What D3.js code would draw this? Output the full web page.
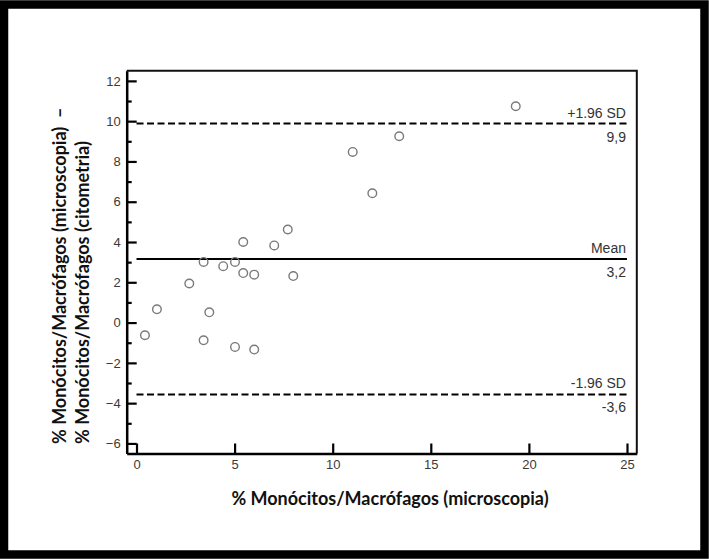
<!DOCTYPE html>
<html>
<head>
<meta charset="utf-8">
<script src="https://cdn.jsdelivr.net/npm/d3@7"></script>
<style>
  html, body { margin: 0; padding: 0; background: #fff; }
  svg { display: block; }
  .tick text { font-family: 'Liberation Sans', Arial, sans-serif; font-size: 13px; fill: #3a3a3a; }
</style>
</head>
<body>
<script>
// Bland-Altman data
const microscopia = [0.43, 1.04, 2.69, 3.42, 3.42, 3.71, 4.42, 5.02, 5.02, 5.44, 5.44, 6.0, 6.0, 7.02, 7.71, 7.99, 11.02, 12.02, 13.39, 19.33]
const diferenca = [-0.63, 0.66, 1.94, 3.01, -0.88, 0.51, 2.8, 3.01, -1.21, 2.46, 4.0, 2.38, -1.34, 3.83, 4.62, 2.31, 8.47, 6.42, 9.25, 10.74]

// Reference lines
const refValues = [9.88, 3.16, -3.57]
const refNames = ['+1.96 SD', 'Mean', '-1.96 SD']
const refLabels = ['9,9', '3,2', '-3,6']
const refDashed = [true, false, true]

// Ticks
const xTicks = [0, 5, 10, 15, 20, 25]
const yTicks = [-6, -4, -2, 0, 2, 4, 6, 8, 10, 12]
const yMinor = [-5, -3, -1, 1, 3, 5, 7, 9, 11]

const width = 709
const height = 559

const svg = d3.select('body').append('svg')
  .attr('width', width)
  .attr('height', height)

// Outer black border
svg.append('rect')
  .attr('x', 4).attr('y', 4.5)
  .attr('width', width - 8.5).attr('height', height - 9)
  .attr('fill', '#fff')
  .attr('stroke', '#000')
  .attr('stroke-width', 8.5)

const x = d3.scaleLinear().domain([-0.5, 25.5]).range([126.7, 636.8])
const y = d3.scaleLinear().domain([-6.5, 12.5]).range([453.5, 70.8])

// Frame top + right
svg.append('path')
  .attr('d', `M${x(-0.5)},${y(12.5)}H${x(25.5)}V${y(-6.5)}`)
  .attr('fill', 'none')
  .attr('stroke', '#111')
  .attr('stroke-width', 2)

// Y axis (major)
const yAxis = svg.append('g')
  .attr('transform', `translate(${x(-0.5)},0)`)
  .call(d3.axisLeft(y).tickValues(yTicks).tickSize(-10).tickSizeOuter(0).tickPadding(6))
yAxis.select('.domain').attr('stroke', '#000').attr('stroke-width', 2.5)
yAxis.selectAll('.tick line').attr('stroke', '#000').attr('stroke-width', 2.2)

// Y axis (minor)
svg.append('g')
  .attr('transform', `translate(${x(-0.5)},0)`)
  .call(d3.axisLeft(y).tickValues(yMinor).tickSize(-5).tickFormat(''))
  .call(g => g.select('.domain').remove())
  .selectAll('.tick line').attr('stroke', '#000').attr('stroke-width', 2.2)

// X axis
const xAxis = svg.append('g')
  .attr('transform', `translate(0,${y(-6.5)})`)
  .call(d3.axisBottom(x).tickValues(xTicks).tickSize(-10).tickSizeOuter(0).tickPadding(6))
xAxis.select('.domain').attr('stroke', '#000').attr('stroke-width', 2.5)
xAxis.selectAll('.tick line').attr('stroke', '#000').attr('stroke-width', 2.2)

// Reference lines
refValues.forEach((v, i) => {
  svg.append('line')
    .attr('x1', x(0)).attr('x2', x(25))
    .attr('y1', y(v)).attr('y2', y(v))
    .attr('stroke', '#000')
    .attr('stroke-width', 2)
    .attr('stroke-dasharray', refDashed[i] ? '7,3.5' : null)

  svg.append('text')
    .attr('x', x(25) - 1)
    .attr('y', y(v) - 6)
    .attr('text-anchor', 'end')
    .style('font-family', "'Liberation Sans', Arial, sans-serif")
    .style('font-size', '14px')
    .style('fill', '#333')
    .text(refNames[i])

  svg.append('text')
    .attr('x', x(25) - 1)
    .attr('y', y(v) + 18)
    .attr('text-anchor', 'end')
    .style('font-family', "'Liberation Sans', Arial, sans-serif")
    .style('font-size', '14px')
    .style('fill', '#333')
    .text(refLabels[i])
})

// Points
svg.append('g')
  .selectAll('circle')
  .data(microscopia)
  .enter()
  .append('circle')
  .attr('cx', d => x(d))
  .attr('cy', (_, i) => y(diferenca[i]))
  .attr('r', 4.3)
  .attr('fill', 'none')
  .attr('stroke', '#7a7a7a')
  .attr('stroke-width', 1.4)

// Axis titles
const titleFont = "Lato, 'Open Sans', sans-serif"
svg.append('text')
  .attr('x', 390)
  .attr('y', 505)
  .attr('text-anchor', 'middle')
  .style('font-family', titleFont)
  .style('font-weight', 'bold')
  .style('font-size', '18px')
  .style('fill', '#111')
  .text('% Monócitos/Macrófagos (microscopia)')

const yTitle = ['% Monócitos/Macrófagos (microscopia)  –', '% Monócitos/Macrófagos (citometria)']
yTitle.forEach((t, i) => {
  svg.append('text')
    .attr('transform', `translate(${66 + i * 23},444) rotate(-90)`)
    .attr('text-anchor', 'start')
    .style('font-family', titleFont)
    .style('font-weight', 'bold')
    .style('font-size', '18px')
    .style('fill', '#111')
    .style('white-space', 'pre')
    .text(t)
})
</script>
</body>
</html>
